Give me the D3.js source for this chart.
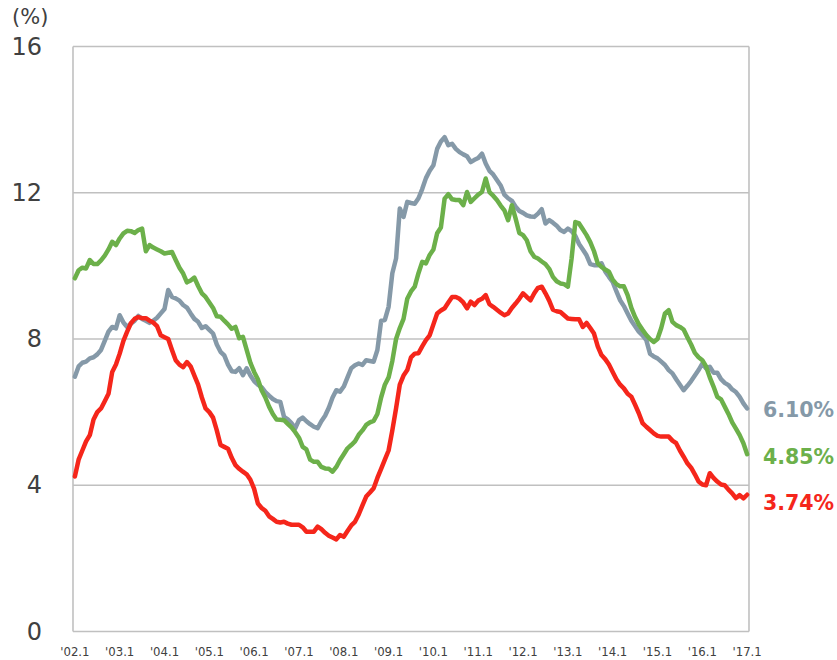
<!DOCTYPE html>
<html><head><meta charset="utf-8">
<script src="https://cdn.jsdelivr.net/npm/d3@7"></script>
<style>
html,body{margin:0;padding:0;background:#fff;}
svg{display:block;}
</style></head>
<body>
<svg id="chart" width="837" height="660"></svg>
<script>
// ---- data (monthly, 2002.1 – 2017.1) ----
const startYear = 2002;
const xTickLabels = ["'02.1","'03.1","'04.1","'05.1","'06.1","'07.1","'08.1","'09.1","'10.1","'11.1","'12.1","'13.1","'14.1","'15.1","'16.1","'17.1"];
const yTicks = [0, 4, 8, 12, 16];

const graySeries = [
6.97,7.25,7.35,7.38,7.47,7.5,7.58,7.7,7.95,8.2,8.33,8.29,
8.65,8.45,8.33,8.42,8.5,8.63,8.55,8.5,8.44,8.5,8.58,8.7,
8.82,9.34,9.15,9.11,9.05,8.93,8.86,8.7,8.55,8.47,8.3,8.35,
8.25,8.15,7.85,7.65,7.55,7.3,7.12,7.1,7.2,7.01,7.2,7.0,
6.85,6.75,6.68,6.55,6.45,6.36,6.3,6.28,5.87,5.8,5.7,5.56,
5.78,5.85,5.75,5.67,5.6,5.56,5.75,5.9,6.12,6.4,6.6,6.56,
6.7,6.95,7.2,7.28,7.33,7.29,7.42,7.4,7.38,7.7,8.5,8.52,
8.88,9.8,10.2,11.57,11.34,11.75,11.72,11.7,11.85,12.1,12.4,12.6,
12.75,13.2,13.4,13.52,13.3,13.34,13.2,13.11,13.05,13.0,12.84,12.9,
12.95,13.07,12.8,12.6,12.5,12.35,12.2,11.95,11.85,11.78,11.62,11.5,
11.45,11.38,11.35,11.34,11.43,11.55,11.16,11.25,11.18,11.1,10.98,10.93,
11.02,10.95,10.82,10.6,10.45,10.29,10.05,10.02,10.02,10.07,9.85,9.7,
9.56,9.3,9.06,8.9,8.7,8.5,8.35,8.2,8.1,7.97,7.6,7.52,
7.47,7.38,7.29,7.15,7.06,6.9,6.75,6.6,6.72,6.85,7.0,7.15,
7.33,7.2,7.24,7.08,7.08,6.9,6.8,6.74,6.62,6.55,6.42,6.24,
6.10];

const greenSeries = [
9.66,9.88,9.95,9.93,10.16,10.05,10.05,10.15,10.28,10.45,10.66,10.57,
10.75,10.89,10.96,10.95,10.9,10.98,11.02,10.4,10.57,10.5,10.45,10.4,
10.34,10.36,10.38,10.16,9.95,9.79,9.55,9.6,9.68,9.45,9.25,9.15,
9.0,8.85,8.62,8.61,8.5,8.4,8.28,8.33,8.02,8.06,7.7,7.35,
7.1,6.9,6.6,6.4,6.15,5.95,5.8,5.79,5.78,5.68,5.58,5.45,
5.3,5.05,4.98,4.7,4.64,4.64,4.5,4.46,4.45,4.37,4.5,4.69,
4.85,5.01,5.1,5.2,5.38,5.5,5.65,5.72,5.76,5.95,6.4,6.75,
6.95,7.4,8.0,8.3,8.55,9.1,9.3,9.43,9.8,10.11,10.07,10.3,
10.45,10.89,11.05,11.84,11.96,11.82,11.8,11.8,11.66,12.02,11.75,11.85,
11.95,12.02,12.39,12.02,11.92,11.8,11.65,11.52,11.25,11.66,11.3,10.9,
10.84,10.7,10.4,10.25,10.2,10.12,10.05,9.92,9.7,9.58,9.52,9.5,
9.43,10.2,11.2,11.16,11.0,10.84,10.65,10.4,10.07,9.97,9.9,9.84,
9.62,9.5,9.44,9.44,9.2,8.85,8.6,8.4,8.25,8.11,8.0,7.92,
8.0,8.3,8.7,8.79,8.47,8.38,8.33,8.26,8.05,7.85,7.62,7.5,
7.42,7.25,6.95,6.7,6.42,6.35,6.15,5.95,5.72,5.55,5.37,5.15,
4.85];

const redSeries = [
4.24,4.7,4.95,5.2,5.37,5.8,6.0,6.1,6.3,6.5,7.1,7.3,
7.6,7.95,8.2,8.43,8.55,8.6,8.57,8.57,8.5,8.45,8.35,8.1,
8.05,8.0,7.7,7.42,7.3,7.23,7.37,7.25,7.0,6.75,6.4,6.1,
6.0,5.85,5.5,5.1,5.05,5.0,4.75,4.55,4.45,4.37,4.3,4.15,
3.9,3.5,3.38,3.3,3.15,3.08,3.0,2.98,3.0,2.95,2.92,2.92,
2.92,2.85,2.73,2.73,2.73,2.87,2.8,2.7,2.62,2.57,2.52,2.64,
2.59,2.75,2.9,3.0,3.2,3.45,3.69,3.8,3.92,4.2,4.45,4.7,
4.95,5.5,6.1,6.75,7.0,7.15,7.5,7.6,7.61,7.8,7.97,8.1,
8.4,8.7,8.78,8.84,9.0,9.15,9.15,9.1,9.0,8.84,9.02,8.93,
9.05,9.1,9.2,8.95,8.88,8.8,8.72,8.65,8.7,8.85,8.97,9.1,
9.25,9.15,9.06,9.25,9.4,9.43,9.25,9.05,8.8,8.76,8.74,8.65,
8.56,8.55,8.54,8.54,8.33,8.44,8.3,8.15,7.8,7.56,7.45,7.3,
7.1,6.9,6.75,6.65,6.5,6.42,6.2,5.97,5.7,5.6,5.51,5.42,
5.35,5.33,5.33,5.33,5.22,5.15,4.95,4.78,4.6,4.48,4.3,4.1,
4.02,4.0,4.33,4.2,4.1,4.02,4.0,3.88,3.78,3.65,3.73,3.64,
3.74];

const seriesList = [
  {name: "gray", values: graySeries, color: "#8599a8", label: "6.10%"},
  {name: "green", values: greenSeries, color: "#6cb04a", label: "4.85%"},
  {name: "red", values: redSeries, color: "#f5261b", label: "3.74%"}
];

// ---- layout ----
const padL = 73, padR = 749, padT = 46.5, padB = 631.5;
const n = graySeries.length;
const svg = d3.select("#chart");

const x = d3.scaleBand().domain(d3.range(n)).range([padL, padR]).paddingInner(0).paddingOuter(0);
const xc = i => x(i) + x.bandwidth() / 2;
const y = d3.scaleLinear().domain([0, 16]).range([padB, padT]);

// gridlines
svg.append("g").selectAll("line").data(yTicks).join("line")
  .attr("x1", padL).attr("x2", padR)
  .attr("y1", d => y(d)).attr("y2", d => y(d))
  .attr("stroke", "#c0c0c0").attr("stroke-width", 1.6);
// borders left/right
svg.append("line").attr("x1", padL).attr("x2", padL).attr("y1", padT).attr("y2", padB)
  .attr("stroke", "#c0c0c0").attr("stroke-width", 1.6);
svg.append("line").attr("x1", padR).attr("x2", padR).attr("y1", padT).attr("y2", padB)
  .attr("stroke", "#c0c0c0").attr("stroke-width", 1.6);

// y axis labels
const yAxis = d3.axisLeft(y).tickValues(yTicks).tickSize(0).tickPadding(31).tickFormat(d3.format("d"));
const gy = svg.append("g").attr("transform", `translate(${padL},0)`).call(yAxis);
gy.select(".domain").remove();
gy.selectAll("text").attr("font-family", "'DejaVu Sans', Verdana, sans-serif")
  .attr("font-size", 24).attr("fill", "#404040");

// x axis labels (one per January)
const tickIdx = xTickLabels.map((_, k) => k * 12);
const xAxis = d3.axisBottom(x).tickValues(tickIdx).tickSize(0).tickPadding(15)
  .tickFormat((d, k) => xTickLabels[k]);
const gx = svg.append("g").attr("transform", `translate(0,${padB})`).call(xAxis);
gx.select(".domain").remove();
gx.selectAll("text").attr("font-family", "'DejaVu Sans Condensed', 'Liberation Sans Narrow', 'Liberation Sans', sans-serif")
  .attr("font-size", 13).attr("fill", "#404040");

// unit label
svg.append("text").attr("x", 12).attr("y", 24).text("(%)")
  .attr("font-family", "'DejaVu Sans', Verdana, sans-serif").attr("font-size", 21).attr("fill", "#404040");

// lines
const line = d3.line().x((d, i) => xc(i)).y(d => y(d)).curve(d3.curveLinear);
svg.append("g").selectAll("path").data(seriesList).join("path")
  .attr("d", s => line(s.values))
  .attr("fill", "none").attr("stroke", s => s.color)
  .attr("stroke-width", 4.5).attr("stroke-linejoin", "round").attr("stroke-linecap", "round");

// end labels
const labelY = {gray: 410, green: 457, red: 503};
svg.append("g").selectAll("text").data(seriesList).join("text")
  .attr("x", 763).attr("y", s => labelY[s.name])
  .attr("dominant-baseline", "central")
  .attr("font-family", "'DejaVu Sans', Verdana, sans-serif").attr("font-weight", "bold")
  .attr("font-size", 20.5).attr("fill", s => s.color)
  .text(s => s.label);
</script>
</body></html>
